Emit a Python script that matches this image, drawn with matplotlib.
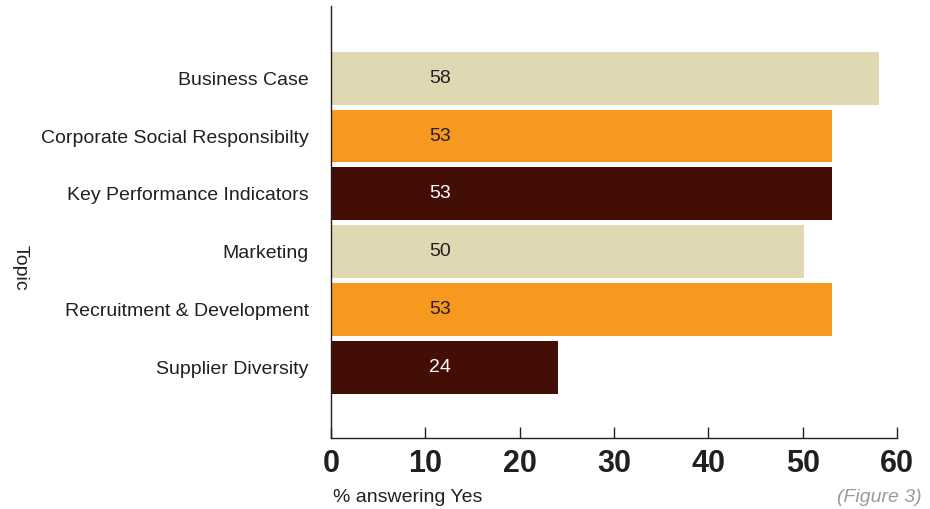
import matplotlib.pyplot as plt

topics = ["Business Case", "Corporate Social Responsibilty", "Key Performance Indicators",
          "Marketing", "Recruitment & Development", "Supplier Diversity"]
pct_yes = [58, 53, 53, 50, 53, 24]
bar_colors = ["#DFD8B3", "#F7981F", "#430E06", "#DFD8B3", "#F7981F", "#430E06"]
label_colors = ["#231F20", "#231F20", "#FFFFFF", "#231F20", "#231F20", "#FFFFFF"]
x_ticks = [0, 10, 20, 30, 40, 50, 60]

plt.rcParams['font.family'] = ['Liberation Sans', 'DejaVu Sans']

fig = plt.figure(figsize=(9.3, 5.09), dpi=100)
# axes box: left spine at x=331, runs from y=6 down to y=437.5
ax = fig.add_axes([331 / 930, 1 - 437.5 / 509, 566 / 930, 431.5 / 509])

pos = list(range(len(topics)))
ax.barh(pos, pct_yes, height=0.914, left=0.1, color=bar_colors)
for p, v, c in zip(pos, pct_yes, label_colors):
    ax.text(11.6, p, str(v), color=c, fontsize=14, ha='center', va='center')

ax.set_ylim(6.216, -1.25)
ax.set_xlim(0, 60)
ax.set_yticks(pos)
ax.set_yticklabels(topics, fontsize=14, color="#231F20")
ax.tick_params(axis='y', length=0, pad=16)
ax.set_xticks(x_ticks)
ax.set_xticklabels([str(t) for t in x_ticks], fontsize=22, fontweight='bold',
                   color="#231F20")
ax.tick_params(axis='x', direction='in', length=8, width=1, pad=8, color="#231F20")

for s in ['top', 'right']:
    ax.spines[s].set_visible(False)
for s in ['left', 'bottom']:
    ax.spines[s].set_color("#231F20")
    ax.spines[s].set_linewidth(1)

fig.text(333 / 930, 1 - 497 / 509, "% answering Yes", fontsize=14, color="#231F20",
         ha='left', va='center')
fig.text(922 / 930, 1 - 497 / 509, "(Figure 3)", fontsize=14, color="#9A9A9A",
         style='italic', ha='right', va='center')
fig.text(20 / 930, 1 - 268 / 509, "Topic", fontsize=14, color="#231F20",
         rotation=-90, ha='center', va='center')

fig.savefig("out.png", dpi=100)
